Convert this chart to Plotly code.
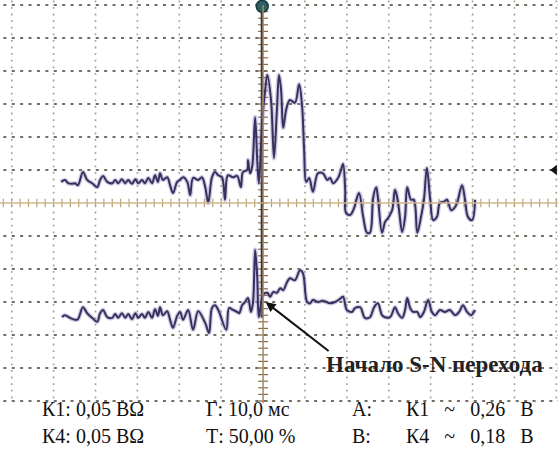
import numpy as np
import plotly.graph_objects as go

# ---- data: time in ms (10 ms/div), screen position in mV (50 mV/div) ----
t1 = [-48.2, -47.3, -46.5, -45.6, -44.9, -44.2, -43.0, -42.0, -40.8, -39.6, -38.9, -38.2, -37.2, -36.0,
      -35.3, -34.6, -33.7, -32.9, -32.2, -31.3, -30.5, -29.8, -28.9, -28.2, -27.4, -26.5, -25.8, -25.1,
      -24.6, -23.9, -22.9, -22.2, -21.5, -20.5, -19.8, -19.1, -18.1, -17.4, -16.7, -15.5, -14.6, -13.8,
      -13.1, -12.2, -11.5, -10.7, -9.8, -9.1, -8.4, -7.2, -6.2, -5.3, -4.8, -3.8, -3.6, -3.1, -2.6, -1.9,
      -1.4, -1.0, -0.2, 0.5, 1.0, 1.9, 2.6, 3.3, 3.8, 4.3, 4.8, 5.5, 6.4, 7.6, 8.6, 9.3, 9.8, 10.3, 11.0,
      11.9, 13.1, 14.3, 15.3, 16.0, 16.7, 17.9, 18.6, 19.1, 19.6, 19.8, 20.8, 21.7, 22.9, 23.9, 24.8, 25.5,
      26.3, 27.0, 27.4, 28.4, 29.1, 29.8, 30.8, 31.5, 32.2, 33.2, 33.9, 34.4, 35.3, 36.0, 36.8, 37.7, 38.4,
      39.1, 39.9, 40.6, 41.5, 42.2, 43.2, 43.9, 44.9, 45.6, 46.3, 47.5, 48.2, 48.9, 49.9, 50.6]
v1 = [32, 35, 30, 29, 30, 27, 47, 35, 30, 24, 35, 41, 32, 30,
      35, 30, 36, 30, 35, 29, 36, 30, 35, 30, 38, 30, 42, 32,
      45, 35, 39, 27, 15, 32, 35, 39, 32, 12, 38, 35, 39, 24,
      0, 39, 47, 42, 39, 5, 42, 39, 41, 24, 47, 50, 65, 45, 55, 130,
      65, 30, 126, 171, 194, 156, 68, 141, 194, 171, 114, 141, 156, 152, 180, 148, 80, 32, 38,
      17, 45, 45, 35, 38, 30, 38, 50, 59, 20, -15, -18, -8, 15, -21, -45, -45,
      9, 24, 9, -45, -29, -23, -11, 20, 2, -44, -21, 24, 5, 5, -45, -21, 5,
      53, 5, -26, -21, 0, 2, 5, -11, -8, 0, 27, 5, -21, -26, 5]

t2 = [-48.0, -47.3, -46.1, -44.9, -44.2, -43.0, -42.0, -40.8, -39.6, -38.9, -38.2, -37.2, -36.0, -35.3,
      -34.6, -33.7, -32.9, -32.2, -31.3, -30.5, -29.8, -28.9, -28.2, -27.4, -26.5, -25.8, -25.1, -24.6,
      -23.9, -22.9, -22.2, -21.5, -20.5, -19.8, -19.1, -17.9, -16.7, -15.5, -13.8, -12.9, -12.2, -11.5,
      -10.7, -8.8, -8.1, -7.2, -6.2, -5.7, -5.0, -4.3, -3.6, -2.9, -2.4, -1.9, -1.4, -1.0, 0.0, 1.0, 1.7,
      2.4, 3.3, 4.1, 4.8, 5.7, 6.4, 7.6, 8.8, 9.5, 10.5, 11.2, 11.9, 13.1, 14.3, 16.0, 17.2, 18.4, 19.1,
      20.0, 21.2, 22.0, 23.2, 24.3, 25.5, 26.5, 27.4, 28.4, 29.1, 30.3, 31.5, 32.2, 33.2, 33.9, 34.4, 35.1,
      35.8, 36.8, 37.5, 38.4, 39.4, 40.3, 41.1, 42.2, 43.4, 44.6, 45.8, 46.8, 47.7, 48.7, 49.6, 50.6]
v2 = [-173, -170, -174, -177, -176, -158, -167, -174, -180, -167, -162, -173, -174, -168,
      -174, -167, -174, -168, -176, -167, -174, -168, -174, -165, -174, -161, -171, -158,
      -170, -164, -177, -189, -171, -165, -177, -162, -192, -164, -182, -197, -159, -155,
      -162, -192, -159, -162, -165, -167, -155, -150, -144, -165, -150, -71, -112, -173, -139, -136, -142,
      -135, -136, -129, -132, -120, -114, -117, -102, -106, -150, -152, -147, -150, -148, -152, -150, -145, -142,
      -162, -165, -159, -158, -174, -173, -158, -152, -170, -173, -173, -158, -167, -174, -162, -144, -159,
      -165, -165, -173, -165, -147, -165, -170, -162, -165, -162, -170, -165, -155, -165, -170, -162]

row1 = ["К1: 0,05 ВΩ", "Г: 10,0 мс", "А:", "К1 ~ 0,26 В"]
row2 = ["К4: 0,05 ВΩ", "Т: 50,00 %", "В:", "К4 ~ 0,18 В"]
label = "Начало S-N перехода"

# ---- screen geometry (style) ----
XR = [-62.8, 70.4]
YR = [-380.3, 307.6]
SIG = "#3a305e"
GLOW = "rgba(150,140,195,0.45)"
GRID_H = "#746d63"
GRID_V = "#a39c91"

fig = go.Figure()

# dotted grid (shapes with dash pattern)
for yl in range(-300, 301, 50):
    if yl == 0:
        continue
    fig.add_shape(type="line", x0=-62, x1=XR[1], y0=yl, y1=yl, layer="below",
                  line=dict(color=GRID_H, width=2.2, dash="3px,5.4px"))
for xl in range(-60, 71, 10):
    if xl == 0:
        continue
    fig.add_shape(type="line", x0=xl, x1=xl, y0=307, y1=-303, layer="below",
                  line=dict(color=GRID_V, width=1.6, dash="1.8px,4.8px"))

# centre axes
fig.add_shape(type="line", x0=XR[0], x1=XR[1], y0=0, y1=0, line=dict(color="#cdb98c", width=1.5))
fig.add_shape(type="line", x0=0, x1=0, y0=-303, y1=300, line=dict(color="#a48a60", width=1.5))
tx = np.arange(-62, 71, 2).tolist()
fig.add_trace(go.Scatter(x=tx, y=[0] * len(tx), mode="markers", hoverinfo="skip",
                         marker=dict(symbol="line-ns", size=6, line=dict(color="#b8a274", width=1.2))))
ty = np.arange(-300, 301, 10).tolist()
fig.add_trace(go.Scatter(x=[0] * len(ty), y=ty, mode="markers", hoverinfo="skip",
                         marker=dict(symbol="line-ew", size=7, line=dict(color="#866b45", width=1.2))))

# dark vertical trigger trace
fig.add_trace(go.Scatter(x=[-0.3, -0.3], y=[295, -174], mode="lines", hoverinfo="skip",
                         line=dict(color="#3a3045", width=2.2)))

# signals
for t, v in ((t1, v1), (t2, v2)):
    fig.add_trace(go.Scatter(x=t, y=v, mode="lines", hoverinfo="skip",
                             line=dict(color=GLOW, width=4.5, shape="spline", smoothing=1.0)))
    fig.add_trace(go.Scatter(x=t, y=v, mode="lines", hoverinfo="skip",
                             line=dict(color=SIG, width=2.0, shape="spline", smoothing=1.0)))

# trigger marker and level marker
fig.add_trace(go.Scatter(x=[-0.2], y=[298], mode="markers", hoverinfo="skip",
                         marker=dict(symbol="circle", size=12, color="#2e6166",
                                     line=dict(color="#173c40", width=1.5))))
fig.add_trace(go.Scatter(x=[69.6], y=[50], mode="markers", hoverinfo="skip",
                         marker=dict(symbol="triangle-left", size=9, color="#111111")))

# arrow and label
fig.add_annotation(x=0.6, y=-150, ax=16.0, ay=-226, xref="x", yref="y", axref="x", ayref="y",
                   showarrow=True, arrowhead=2, arrowsize=1, arrowwidth=2, arrowcolor="#111111", text="")
fig.add_annotation(x=41.0, y=-245, xref="x", yref="y", text="<b>" + label + "</b>", showarrow=False,
                   font=dict(family="Liberation Serif", size=23, color="#222222"),
                   xanchor="center", yanchor="middle")

# bottom read-outs
xs_px = [40, 204, 350, 404]
for row, ypx in ((row1, 409), (row2, 436)):
    for i, (txt, xp) in enumerate(zip(row, xs_px)):
        shown = txt.replace(" ", "&nbsp;&nbsp;&nbsp;") if i == 3 else txt
        fig.add_annotation(x=xp / 558, y=1 - ypx / 454, xref="paper", yref="paper", text=shown,
                           showarrow=False, xanchor="left", yanchor="middle",
                           font=dict(family="Liberation Serif", size=20, color="#111111"))

fig.update_layout(width=558, height=454, margin=dict(l=0, r=0, t=0, b=0),
                  paper_bgcolor="white", plot_bgcolor="white", showlegend=False,
                  xaxis=dict(range=XR, visible=False, fixedrange=True),
                  yaxis=dict(range=YR, visible=False, fixedrange=True))
fig.write_html("out.html", config={"displayModeBar": False},
               post_script="document.body.style.margin='0';document.documentElement.style.margin='0';")
